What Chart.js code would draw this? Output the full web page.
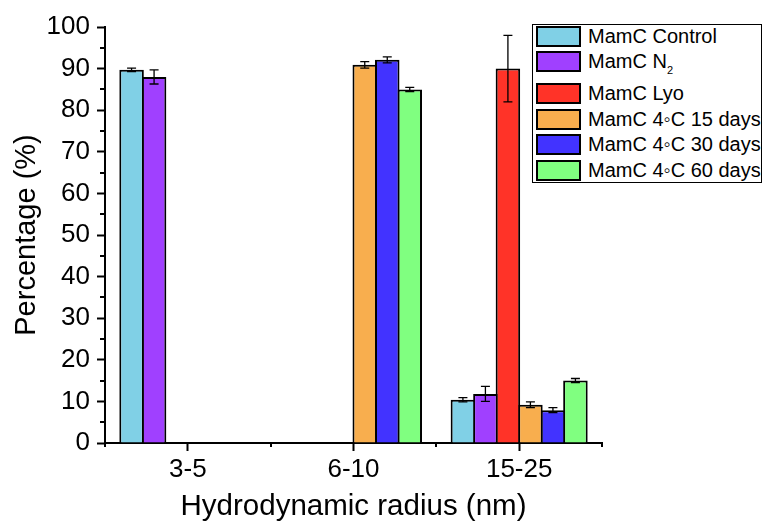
<!DOCTYPE html>
<html><head><meta charset="utf-8">
<script src="https://cdn.jsdelivr.net/npm/chart.js@4/dist/chart.umd.min.js"></script>
<style>
html,body{margin:0;padding:0;background:#fff;}
#wrap{position:relative;width:766px;height:522px;}
#legend{position:absolute;left:532px;top:24px;width:230px;height:159px;border:1px solid #000;box-sizing:border-box;background:#fff;font-family:"Liberation Sans",Arial,sans-serif;color:#000;}
.row{position:absolute;left:3px;height:21px;display:flex;align-items:center;}
.sw{width:45px;height:21px;box-sizing:border-box;border:2px solid #000;flex:none;}
.lt{margin-left:7px;font-size:20px;white-space:nowrap;line-height:21px;}
.lt sub{font-size:11px;vertical-align:-6px;line-height:0;}
</style></head>
<body><div id="wrap"><canvas id="c" width="766" height="522"></canvas><div id="legend"></div></div>
<script>
// ---- data ----
const categories = ['3-5', '6-10', '15-25'];
const seriesNames = ['MamC Control', 'MamC N₂', 'MamC Lyo', 'MamC 4◦C 15 days', 'MamC 4◦C 30 days', 'MamC 4◦C 60 days'];
const controlVals = [89.7, null, 10.4];
const controlErr  = [0.4, null, 0.5];
const n2Vals      = [88.0, null, 11.8];
const n2Err       = [1.7, null, 1.8];
const lyoVals     = [null, null, 90.0];
const lyoErr      = [null, null, 8.0];
const d15Vals     = [null, 90.9, 9.2];
const d15Err      = [null, 0.8, 0.7];
const d30Vals     = [null, 92.1, 7.9];
const d30Err      = [null, 0.7, 0.6];
const d60Vals     = [null, 85.0, 15.0];
const d60Err      = [null, 0.5, 0.5];
const yTicks = [0, 10, 20, 30, 40, 50, 60, 70, 80, 90, 100];
const seriesColors = ['#80D0E6', '#A040FF', '#FF3328', '#F8AE4E', '#4233FF', '#80FF80'];

const valuesList = [controlVals, n2Vals, lyoVals, d15Vals, d30Vals, d60Vals];
const errList = [controlErr, n2Err, lyoErr, d15Err, d30Err, d60Err];

const FONT = '"Liberation Sans", Arial, sans-serif';

const datasets = seriesNames.map((name, i) => ({
  label: name,
  data: valuesList[i],
  errors: errList[i],
  backgroundColor: seriesColors[i],
  borderColor: '#000',
  borderWidth: 2,
  borderSkipped: 'start',
  categoryPercentage: 0.815,
  barPercentage: 1.09
}));

const errorBars = {
  id: 'errorBars',
  afterDatasetsDraw(chart) {
    const ctx = chart.ctx, y = chart.scales.y;
    ctx.save();
    ctx.strokeStyle = '#000';
    ctx.lineWidth = 1.3;
    chart.data.datasets.forEach((ds, di) => {
      const meta = chart.getDatasetMeta(di);
      ds.data.forEach((v, i) => {
        const e = ds.errors[i];
        if (v == null || e == null) return;
        const x = meta.data[i].x;
        const yt = y.getPixelForValue(v + e), yb = y.getPixelForValue(v - e);
        ctx.beginPath();
        ctx.moveTo(x, yt); ctx.lineTo(x, yb);
        ctx.moveTo(x - 4.5, yt); ctx.lineTo(x + 4.5, yt);
        ctx.moveTo(x - 4.5, yb); ctx.lineTo(x + 4.5, yb);
        ctx.stroke();
      });
    });
    ctx.restore();
  }
};

const minorTicks = {
  id: 'minorTicks',
  afterDraw(chart) {
    const ctx = chart.ctx, xs = chart.scales.x, ys = chart.scales.y, ca = chart.chartArea;
    ctx.save();
    ctx.strokeStyle = '#000';
    ctx.lineWidth = 2;
    const half = (xs.getPixelForValue(1) - xs.getPixelForValue(0)) / 2;
    ctx.beginPath();
    for (let i = 0; i <= categories.length; i++) {
      const px = Math.round(xs.getPixelForValue(i) - half);
      ctx.moveTo(px, ca.bottom); ctx.lineTo(px, ca.bottom + 4);
    }
    for (let k = 0; k < yTicks.length - 1; k++) {
      const v = (yTicks[k] + yTicks[k + 1]) / 2;
      const py = Math.round(ys.getPixelForValue(v));
      ctx.moveTo(ca.left, py); ctx.lineTo(ca.left - 5, py);
    }
    ctx.stroke();
    ctx.restore();
  }
};

new Chart(document.getElementById('c'), {
  type: 'bar',
  data: { labels: categories, datasets },
  options: {
    responsive: false,
    animation: false,
    layout: { padding: { top: 27, right: 164, left: 0, bottom: 0 } },
    plugins: { legend: { display: false }, tooltip: { enabled: false } },
    scales: {
      x: {
        offset: true,
        afterFit(s) { s.height = 79; },
        grid: { offset: false, drawOnChartArea: false, tickLength: 8, tickWidth: 2, tickColor: '#000' },
        border: { color: '#000', width: 2 },
        ticks: { color: '#000', font: { family: FONT, size: 26 }, padding: 3, maxRotation: 0 },
        title: { display: true, text: 'Hydrodynamic radius (nm)', color: '#000',
                 font: { family: FONT, size: 29.5, lineHeight: 1 }, padding: { top: 0, bottom: 0 } }
      },
      y: {
        min: 0, max: 100,
        afterFit(s) { s.width = 105; },
        afterBuildTicks(s) { s.ticks = yTicks.map(v => ({ value: v })); },
        grid: { drawOnChartArea: false, tickLength: 8, tickWidth: 2, tickColor: '#000' },
        border: { color: '#000', width: 2 },
        ticks: { color: '#000', font: { family: FONT, size: 26 }, padding: 7 },
        title: { display: true, text: 'Percentage (%)', color: '#000',
                 font: { family: FONT, size: 29, lineHeight: 1 }, padding: { top: 12, bottom: 0 } }
      }
    }
  },
  plugins: [errorBars, minorTicks]
});

// HTML legend built from the dataset labels/colours
const leg = document.getElementById('legend');
seriesNames.forEach((name, i) => {
  const row = document.createElement('div');
  row.className = 'row';
  row.style.top = (1 + i * 25.4 + (i >= 2 ? 6.5 : 0)) + 'px';
  const sw = document.createElement('div');
  sw.className = 'sw';
  sw.style.background = seriesColors[i];
  const t = document.createElement('span');
  t.className = 'lt';
  const parts = name.split('₂');
  t.appendChild(document.createTextNode(parts[0]));
  if (parts.length > 1) {
    const sub = document.createElement('sub');
    sub.textContent = '2';
    t.appendChild(sub);
    t.appendChild(document.createTextNode(parts[1]));
  }
  row.appendChild(sw); row.appendChild(t);
  leg.appendChild(row);
});
</script>
</body></html>
